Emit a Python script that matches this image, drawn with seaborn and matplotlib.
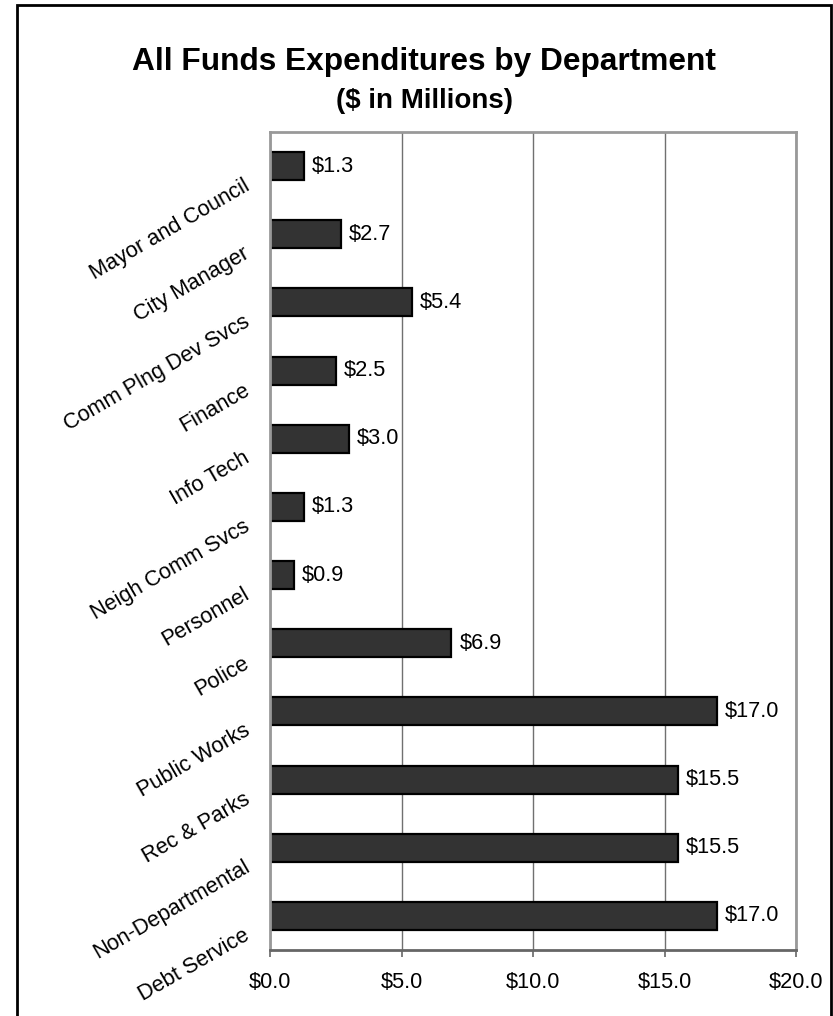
import matplotlib
matplotlib.use("Agg")
import matplotlib.pyplot as plt
from matplotlib.patches import Rectangle
from matplotlib.transforms import ScaledTranslation
import seaborn as sns
import pandas as pd

departments = ["Mayor and Council", "City Manager", "Comm Plng Dev Svcs", "Finance",
               "Info Tech", "Neigh Comm Svcs", "Personnel", "Police", "Public Works",
               "Rec & Parks", "Non-Departmental", "Debt Service"]
expenditures = [1.3, 2.7, 5.4, 2.5, 3.0, 1.3, 0.9, 6.9, 17.0, 15.5, 15.5, 17.0]
x_ticks = [0, 5, 10, 15, 20]
x_tick_labels = ["$0.0", "$5.0", "$10.0", "$15.0", "$20.0"]
title = "All Funds Expenditures by Department"
subtitle = "($ in Millions)"

sns.set_theme(style="white")
plt.rcParams["font.family"] = ["Liberation Sans", "DejaVu Sans"]

W, H, DPI = 833, 1016, 100
fig = plt.figure(figsize=(W / DPI, H / DPI), dpi=DPI)
fig.patch.set_facecolor("white")

ax = fig.add_axes([270 / W, 1 - 950 / H, (796 - 270) / W, (950 - 132) / H])

df = pd.DataFrame({"dept": departments, "value": expenditures})
sns.barplot(data=df, x="value", y="dept", orient="h", color="#333333",
            saturation=1, width=0.41, edgecolor="black", linewidth=1.6, ax=ax)

ax.set_xlim(0, 20)
ax.set_ylim(len(departments) - 0.5, -0.5)
ax.set_xticks(x_ticks)
ax.set_xticklabels(x_tick_labels, fontsize=15.7, color="black")
ax.set_xlabel("")
ax.set_ylabel("")
ax.xaxis.grid(True, color="#707070", linewidth=1)
ax.yaxis.grid(False)
ax.set_axisbelow(True)

for side in ["left", "right", "top"]:
    ax.spines[side].set_color("#999999")
    ax.spines[side].set_linewidth(2)
ax.spines["bottom"].set_color("#666666")
ax.spines["bottom"].set_linewidth(2)

ax.tick_params(axis="x", which="both", bottom=True, length=5, width=1.2,
               color="#666666", pad=11, direction="out")
ax.tick_params(axis="y", which="both", left=False, length=0, pad=15.8)

ax.set_yticks(range(len(departments)))
ax.set_yticklabels(departments, fontsize=15.7, rotation=30, ha="right",
                   va="center", rotation_mode="anchor", color="black")
offset = ScaledTranslation(0, -18 / DPI, fig.dpi_scale_trans)
for lbl in ax.get_yticklabels():
    lbl.set_transform(lbl.get_transform() + offset)

for c in ax.containers:
    ax.bar_label(c, labels=[f"${v:.1f}" for v in expenditures], padding=5.8,
                 fontsize=15.7, color="black")

fig.text(424 / W, 1 - 70 / H, title, ha="center", va="baseline",
         fontsize=22.8, fontweight="bold", color="black")
fig.text(424 / W, 1 - 108 / H, subtitle, ha="center", va="baseline",
         fontsize=20, fontweight="bold", color="black")

fig.patches.append(Rectangle((17 / W, -0.05), (831 - 17) / W, (1 - 5 / H) + 0.05,
                             transform=fig.transFigure, fill=False,
                             edgecolor="black", linewidth=2, zorder=10))

fig.savefig("out.png", dpi=DPI, facecolor="white")
